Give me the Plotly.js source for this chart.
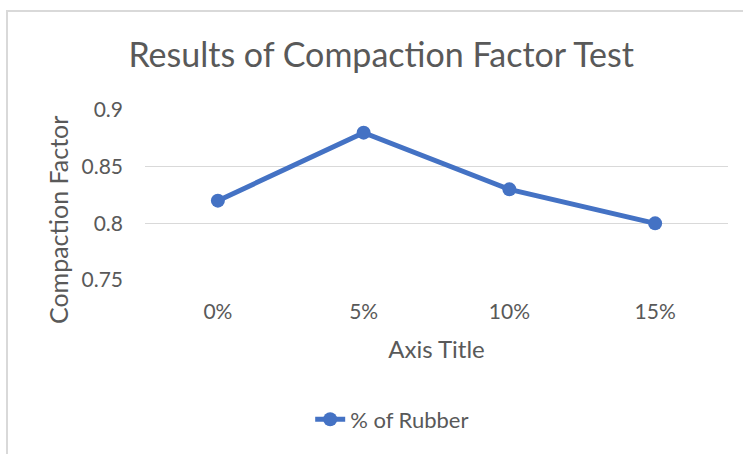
<!DOCTYPE html>
<html><head><meta charset="utf-8">
<script src="https://cdn.plot.ly/plotly-3.0.1.min.js"></script>
<style>
html,body{margin:0;padding:0;background:#fff;overflow:hidden;}
#frame{position:absolute;left:6px;top:10px;width:800px;height:500px;border-left:2px solid #d9d9d9;border-top:2px solid #d9d9d9;pointer-events:none;z-index:5;}
#chart{position:absolute;left:0;top:0;width:743px;height:454px;}
</style>
</head><body>
<div id="chart"></div>
<div id="frame"></div>
<script>
const categories = ['0%', '5%', '10%', '15%'];
const compactionFactor = [0.82, 0.88, 0.83, 0.80];
const seriesName = '% of Rubber';
const yTicks = [0.75, 0.8, 0.85, 0.9];
const yTickLabels = ['0.75', '0.8', '0.85', '0.9'];

const font = 'Lato, "Open Sans", sans-serif';
const grey = '#595959';

Plotly.newPlot('chart', [{
  x: categories,
  y: compactionFactor,
  name: seriesName,
  type: 'scatter',
  mode: 'lines+markers',
  line: {color: '#4472C4', width: 5},
  marker: {color: '#4472C4', size: 14}
}], {
  width: 743, height: 454,
  margin: {l: 145, r: 15, t: 110, b: 174, autoexpand: false},
  paper_bgcolor: '#fff', plot_bgcolor: '#fff',
  showlegend: true,
  font: {family: font, color: grey, size: 21},
  title: {text: 'Results of Compaction Factor Test', font: {family: font, size: 34, color: grey}, x: 0.513, xanchor: 'center', y: 0.879, yanchor: 'middle'},
  xaxis: {
    type: 'category', range: [-0.5, 3.5],
    showgrid: false, zeroline: false, showline: false, ticks: '',
    tickfont: {size: 21, color: grey}, ticklabelstandoff: 17,
    title: {text: 'Axis Title', font: {size: 24, color: grey}, standoff: 19}
  },
  yaxis: {
    range: [0.75, 0.9], tickvals: yTicks, ticktext: yTickLabels,
    showgrid: true, gridcolor: '#d9d9d9', gridwidth: 1.5,
    zeroline: false, showline: false, ticks: '',
    tickfont: {size: 21, color: grey}, ticklabelstandoff: 21
  },
  annotations: [{
    text: 'Compaction Factor', textangle: -90, showarrow: false,
    xref: 'paper', yref: 'paper', x: -0.1492, y: 0.353, xanchor: 'center', yanchor: 'middle',
    font: {family: font, size: 25, color: grey}
  }],
  legend: {orientation: 'h', x: 0.424, xanchor: 'center', y: -0.82, yanchor: 'middle', font: {size: 22, color: grey}}
}, {displayModeBar: false, staticPlot: true});
</script>
</body></html>
